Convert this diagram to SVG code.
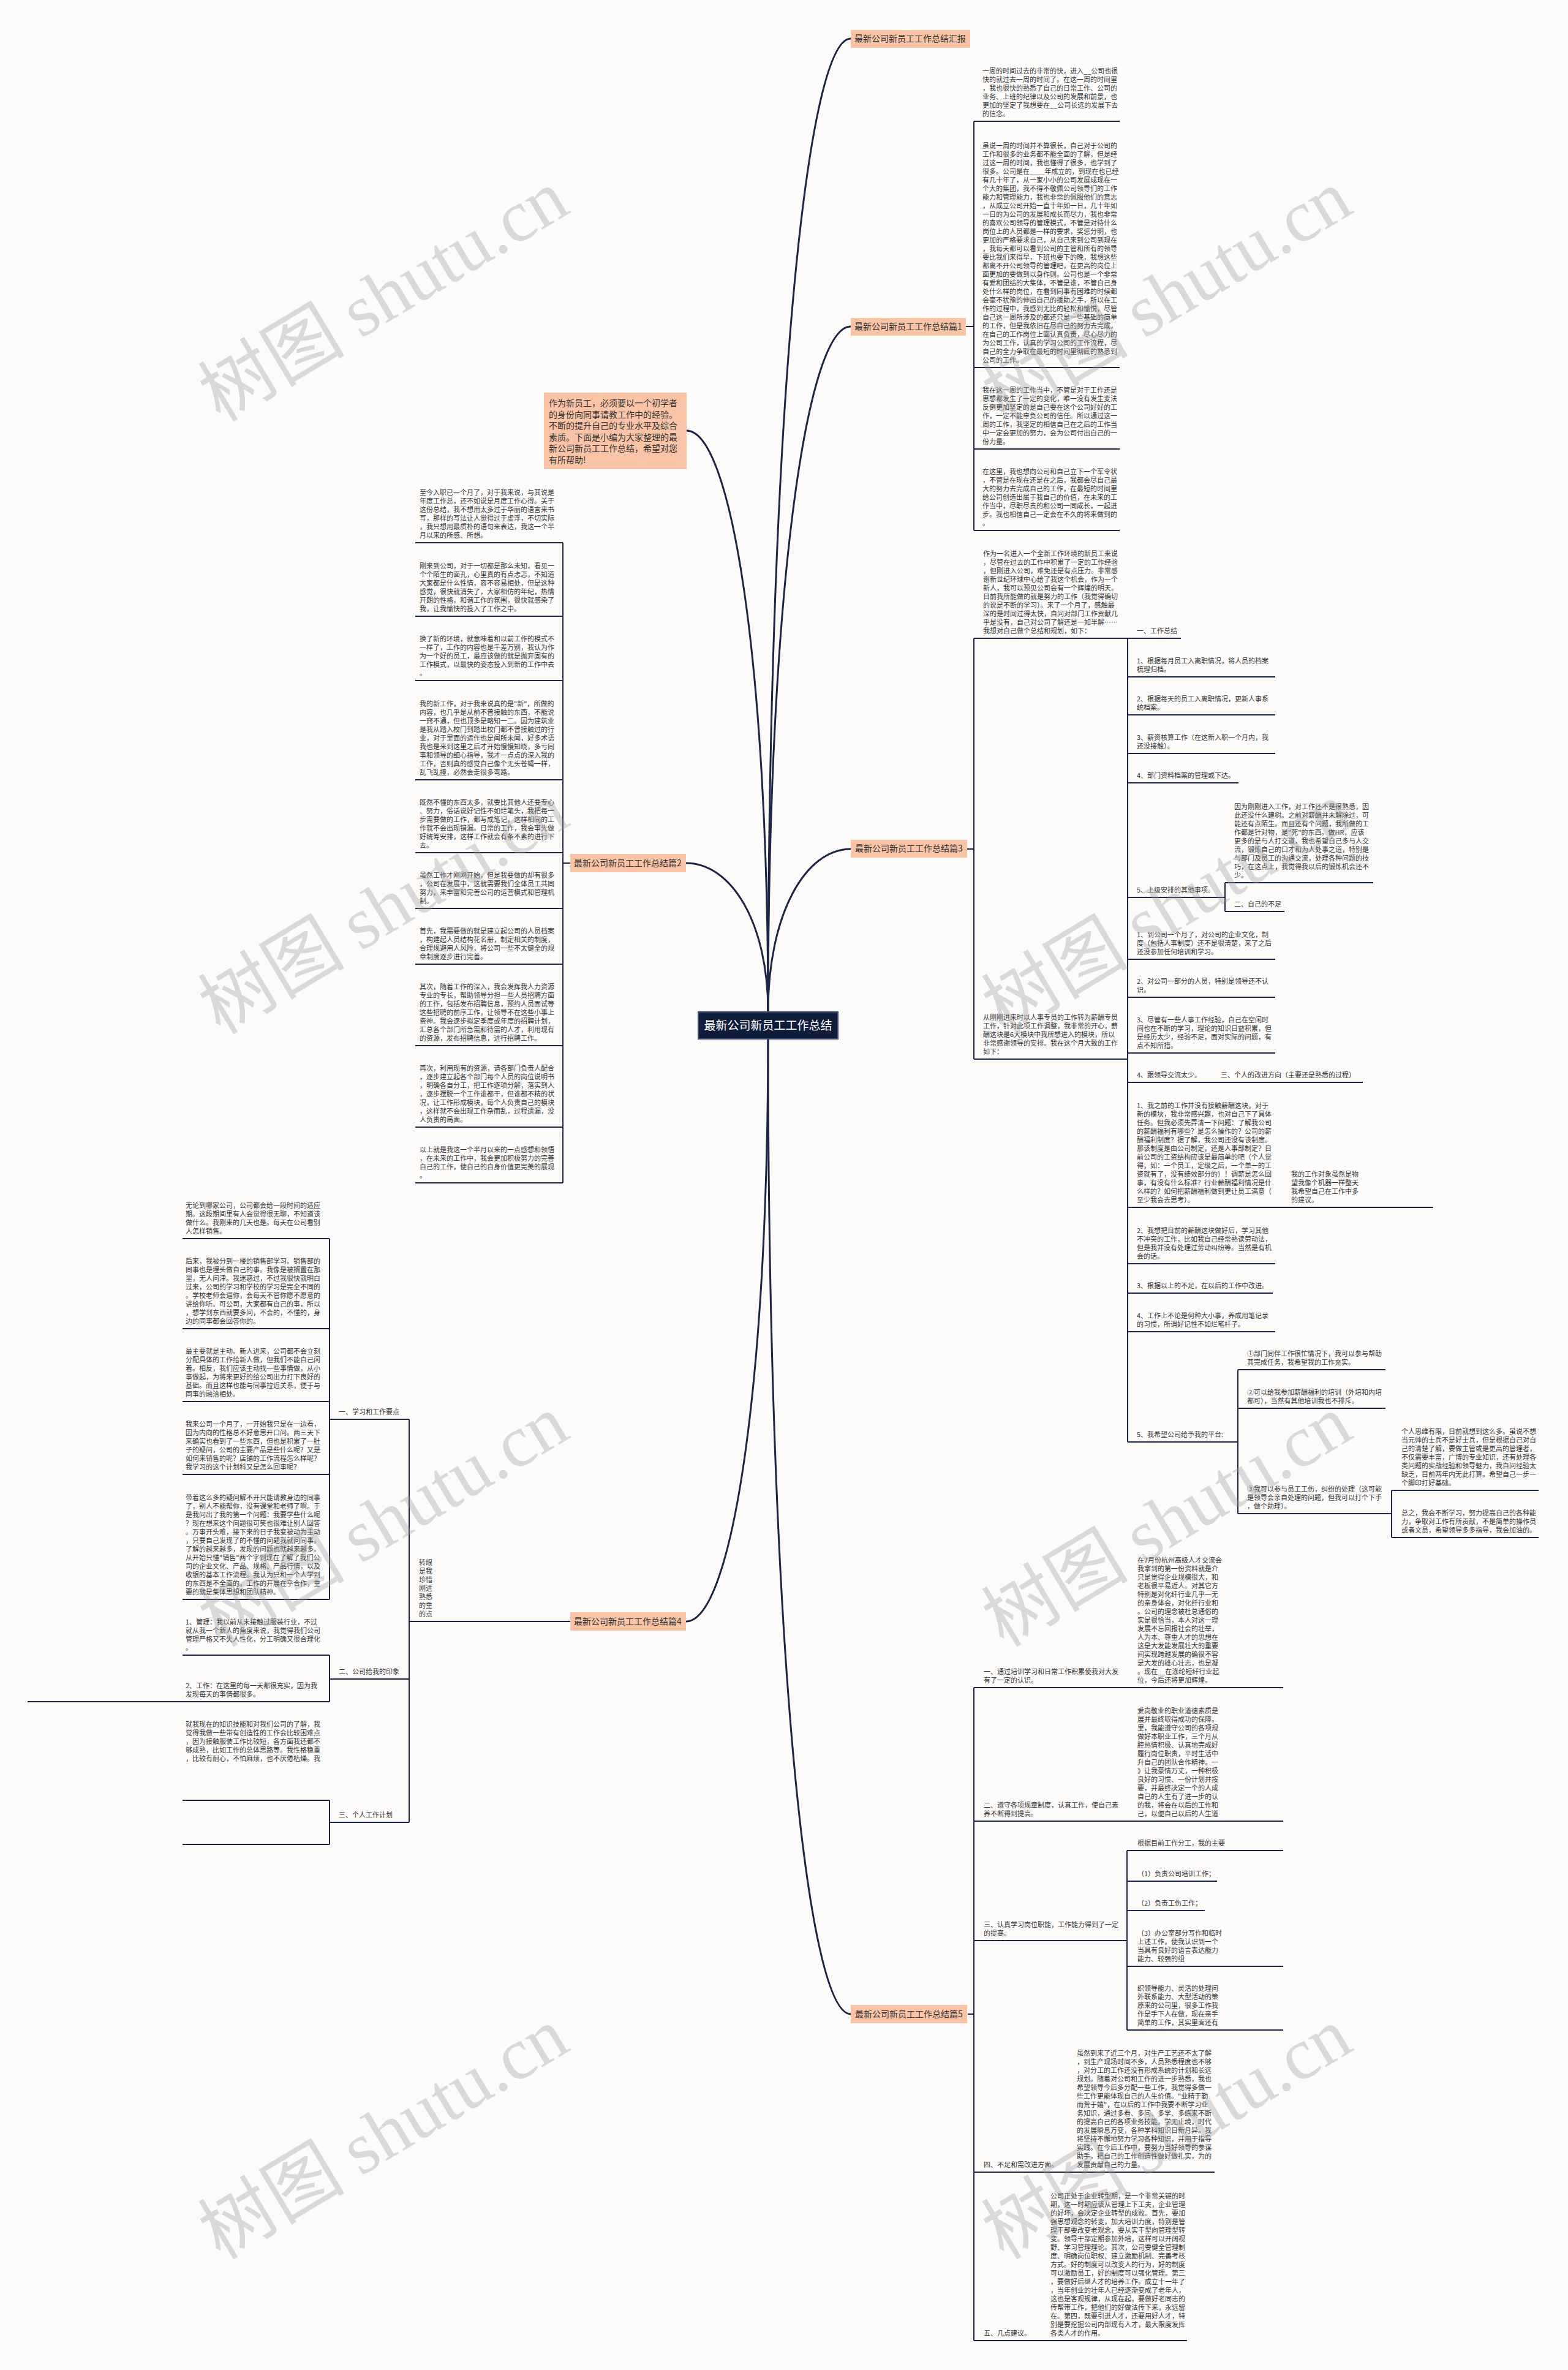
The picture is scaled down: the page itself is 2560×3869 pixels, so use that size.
<svg xmlns="http://www.w3.org/2000/svg" width="2560" height="3869" viewBox="0 0 2560 3869">
<style>
.t{font-family:"Noto Sans CJK SC","Noto Sans",sans-serif;font-size:11px;fill:#333}
.lb{font-family:"Noto Sans CJK SC","Noto Sans",sans-serif;font-size:14px;fill:#333;text-anchor:middle}
.ln{stroke:#1c2541;stroke-width:2;fill:none}
.cv{stroke:#1c2541;stroke-width:3;fill:none}
.lab{fill:#f9c4a5}
.wm{font-family:"Noto Sans CJK SC",sans-serif;font-size:120px;fill:#9a9a9a;opacity:.35}
.wl{font-family:"Liberation Serif",serif}
</style>
<rect width="2560" height="3869" fill="#fdfbfa"/>
<g id="connectors">
<path class="cv" d="M1254,1652 C1254,699 1315,63 1389,63"/>
<path class="cv" d="M1254,1652 C1254,981 1315,533 1389,533"/>
<path class="cv" d="M1254,1652 C1254,1492 1315,1386 1389,1386"/>
<path class="cv" d="M1254,1652 C1254,1083 1194,703 1121,703"/>
<path class="cv" d="M1254,1652 C1254,1506 1194,1409 1120,1409"/>
<path class="cv" d="M1254,1696 C1254,2267 1194,2647 1120,2647"/>
<path class="cv" d="M1254,1696 C1254,2651 1315,3288 1389,3288"/>
<path class="ln" d="M1577,533H1590M1590,198V866M1579,1386H1590M1590,1042V1729M931,1409H919M919,886V1931M931,2647H918M668,2317V2975M1580,3288H1590M1590,2755V3821M1841,1042V2354M2000,1441V1488M2021,2236V2471M2272,2433V2510M538,2022V2611M538,2702V2778M538,2939V3011M1840,3021V3314"/>
</g>
<g id="root"><rect x="1140" y="1652" width="228" height="44" fill="#0f1d3a" stroke="#3b4e74" stroke-width="2"/><text x="1254" y="1681" style="font-family:'Noto Sans CJK SC',sans-serif;font-size:19px;fill:#fff;text-anchor:middle">最新公司新员工工作总结</text></g>
<g id="n-note"><rect class="lab" x="888" y="641" width="233" height="125"/><text class="lb" style="text-anchor:start" x="896" y="663"><tspan x="896" y="663">作为新员工，必须要以一个初学者</tspan><tspan x="896" dy="18.6">的身份向同事请教工作中的经验。</tspan><tspan x="896" dy="18.6">不断的提升自己的专业水平及综合</tspan><tspan x="896" dy="18.6">素质。下面是小编为大家整理的最</tspan><tspan x="896" dy="18.6">新公司新员工工作总结，希望对您</tspan><tspan x="896" dy="18.6">有所帮助!</tspan></text></g>
<g id="l0"><rect class="lab" x="1389" y="49" width="195" height="29"/><text class="lb" x="1486" y="68">最新公司新员工工作总结汇报</text></g>
<g id="l1"><rect class="lab" x="1389" y="519" width="188" height="29"/><text class="lb" x="1483" y="538">最新公司新员工工作总结篇1</text></g>
<g id="l3"><rect class="lab" x="1389" y="1371" width="190" height="29"/><text class="lb" x="1484" y="1390">最新公司新员工工作总结篇3</text></g>
<g id="l2"><rect class="lab" x="931" y="1394" width="189" height="30"/><text class="lb" x="1025" y="1414">最新公司新员工工作总结篇2</text></g>
<g id="l4"><rect class="lab" x="931" y="2632" width="189" height="30"/><text class="lb" x="1025" y="2652">最新公司新员工工作总结篇4</text></g>
<g id="l5"><rect class="lab" x="1389" y="3273" width="190" height="30"/><text class="lb" x="1484" y="3293">最新公司新员工工作总结篇5</text></g>

<g id="b1a"><path class="ln" d="M1590,198H1828"/><text class="t"><tspan x="1604" y="120">一周的时间过去的非常的快，进入__公司也很</tspan><tspan x="1604" dy="14">快的就过去一周的时间了。在这一周的时间里</tspan><tspan x="1604" dy="14">，我也很快的熟悉了自己的日常工作、公司的</tspan><tspan x="1604" dy="14">业务、上班的纪律以及公司的发展和前景，也</tspan><tspan x="1604" dy="14">更加的坚定了我想要在__公司长远的发展下去</tspan><tspan x="1604" dy="14">的信念。</tspan></text></g>
<g id="b1b"><path class="ln" d="M1590,600H1828"/><text class="t"><tspan x="1604" y="242">虽说一周的时间并不算很长，自己对于公司的</tspan><tspan x="1604" dy="14">工作和很多的业务都不能全面的了解，但是经</tspan><tspan x="1604" dy="14">过这一周的时间，我也懂得了很多，也学到了</tspan><tspan x="1604" dy="14">很多。公司是在____年成立的，到现在也已经</tspan><tspan x="1604" dy="14">有几十年了，从一家小小的公司发展成现在一</tspan><tspan x="1604" dy="14">个大的集团，我不得不敬佩公司领导们的工作</tspan><tspan x="1604" dy="14">能力和管理能力，我也非常的佩服他们的意志</tspan><tspan x="1604" dy="14">，从成立公司开始一直十年如一日，几十年如</tspan><tspan x="1604" dy="14">一日的为公司的发展和成长而尽力，我也非常</tspan><tspan x="1604" dy="14">的喜欢公司领导的管理模式，不管是对待什么</tspan><tspan x="1604" dy="14">岗位上的人员都是一样的要求，奖惩分明，也</tspan><tspan x="1604" dy="14">更加的严格要求自己，从自己来到公司到现在</tspan><tspan x="1604" dy="14">，我每天都可以看到公司的主管和所有的领导</tspan><tspan x="1604" dy="14">要比我们来得早，下班也要下的晚，我想这些</tspan><tspan x="1604" dy="14">都离不开公司领导的管理吧，在更高的岗位上</tspan><tspan x="1604" dy="14">面更加的要做到以身作则。公司也是一个非常</tspan><tspan x="1604" dy="14">有爱和团结的大集体，不管是谁，不管自己身</tspan><tspan x="1604" dy="14">处什么样的岗位，在看到同事有困难的时候都</tspan><tspan x="1604" dy="14">会毫不犹豫的伸出自己的援助之手，所以在工</tspan><tspan x="1604" dy="14">作的过程中，我感到无比的轻松和愉悦，尽管</tspan><tspan x="1604" dy="14">自己这一周所涉及的都还只是一些基础的简单</tspan><tspan x="1604" dy="14">的工作，但是我依旧在尽自己的努力去完成，</tspan><tspan x="1604" dy="14">在自己的工作岗位上面认真负责，尽心尽力的</tspan><tspan x="1604" dy="14">为公司工作，认真的学习公司的工作流程，尽</tspan><tspan x="1604" dy="14">自己的全力争取在最短的时间里彻底的熟悉到</tspan><tspan x="1604" dy="14">公司的工作。</tspan></text></g>
<g id="b1c"><path class="ln" d="M1590,733H1828"/><text class="t"><tspan x="1604" y="641">我在这一周的工作当中，不管是对于工作还是</tspan><tspan x="1604" dy="14">思想都发生了一定的变化，唯一没有发生变法</tspan><tspan x="1604" dy="14">反倒更加坚定的是自己要在这个公司好好的工</tspan><tspan x="1604" dy="14">作，一定不能辜负公司的信任。所以通过这一</tspan><tspan x="1604" dy="14">周的工作，我坚定的相信自己在之后的工作当</tspan><tspan x="1604" dy="14">中一定会更加的努力，会为公司付出自己的一</tspan><tspan x="1604" dy="14">份力量。</tspan></text></g>
<g id="b1d"><path class="ln" d="M1590,866H1828"/><text class="t"><tspan x="1604" y="774">在这里，我也想向公司和自己立下一个军令状</tspan><tspan x="1604" dy="14">，不管是在现在还是在之后，我都会尽自己最</tspan><tspan x="1604" dy="14">大的努力去完成自己的工作，在最短的时间里</tspan><tspan x="1604" dy="14">给公司创造出属于我自己的价值，在未来的工</tspan><tspan x="1604" dy="14">作当中，尽职尽责的和公司一同成长，一起进</tspan><tspan x="1604" dy="14">步。我也相信自己一定会在不久的将来做到的</tspan><tspan x="1604" dy="14">。</tspan></text></g>

<g id="b3-intro"><path class="ln" d="M1590,1042H1841"/><text class="t"><tspan x="1605" y="908">作为一名进入一个全新工作环境的新员工来说</tspan><tspan x="1605" dy="14">，尽管在过去的工作中积累了一定的工作经验</tspan><tspan x="1605" dy="14">，但刚进入公司，难免还是有点压力。非常感</tspan><tspan x="1605" dy="14">谢新世纪环球中心给了我这个机会，作为一个</tspan><tspan x="1605" dy="14">新人，我可以预见公司会有一个辉煌的明天。</tspan><tspan x="1605" dy="14">目前我所能做的就是努力的工作（我觉得确切</tspan><tspan x="1605" dy="14">的说是不断的学习）。来了一个月了，感触最</tspan><tspan x="1605" dy="14">深的是时间过得太快，自问对部门工作贡献几</tspan><tspan x="1605" dy="14">乎是没有，自己对公司了解还是一知半解……</tspan><tspan x="1605" dy="14">我想对自己做个总结和规划，如下：</tspan></text></g>
<g id="b3-from"><path class="ln" d="M1590,1729H1841"/><text class="t"><tspan x="1605" y="1665">从刚刚进来时以人事专员的工作转为薪酬专员</tspan><tspan x="1605" dy="14">工作，针对此项工作调整，我非常的开心，薪</tspan><tspan x="1605" dy="14">酬这块是6大模块中我所想进入的模块，所以</tspan><tspan x="1605" dy="14">非常感谢领导的安排。我在这个月大致的工作</tspan><tspan x="1605" dy="14">如下：</tspan></text></g>
<g id="b3-s1"><path class="ln" d="M1841,1042H1928"/><text class="t" x="1856" y="1034">一、工作总结</text></g>
<g id="b3-s1-1"><path class="ln" d="M1841,1105H2082"/><text class="t"><tspan x="1856" y="1083">1、根据每月员工入离职情况，将人员的档案</tspan><tspan x="1856" dy="14">梳理归档。</tspan></text></g>
<g id="b3-s1-2"><path class="ln" d="M1841,1167H2082"/><text class="t"><tspan x="1856" y="1145">2、根据每天的员工入离职情况，更新人事系</tspan><tspan x="1856" dy="14">统档案。</tspan></text></g>
<g id="b3-s1-3"><path class="ln" d="M1841,1230H2082"/><text class="t"><tspan x="1856" y="1208">3、薪资核算工作（在这新入职一个月内，我</tspan><tspan x="1856" dy="14">还没接触）。</tspan></text></g>
<g id="b3-s1-4"><path class="ln" d="M1841,1278H2022"/><text class="t" x="1856" y="1270">4、部门资料档案的管理或下达。</text></g>
<g id="b3-s1-5"><path class="ln" d="M1841,1465H2000"/><text class="t" x="1856" y="1457">5、上级安排的其他事项。</text></g>
<g id="b3-because"><path class="ln" d="M2000,1441H2242"/><text class="t"><tspan x="2015" y="1321">因为刚刚进入工作，对工作还不是很熟悉，因</tspan><tspan x="2015" dy="14">此还没什么建树。之前对薪酬并未解除过，可</tspan><tspan x="2015" dy="14">能还有点陌生。而且还有个问题，我所做的工</tspan><tspan x="2015" dy="14">作都是针对物，是"死"的东西。做HR，应该</tspan><tspan x="2015" dy="14">更多的是与人打交道，我也希望自己多与人交</tspan><tspan x="2015" dy="14">流，锻炼自己的口才和为人处事之道，特别是</tspan><tspan x="2015" dy="14">与部门及员工的沟通交流，处理各种问题的技</tspan><tspan x="2015" dy="14">巧，在这点上，我觉得我以后的锻炼机会还不</tspan><tspan x="2015" dy="14">少。</tspan></text></g>
<g id="b3-s2"><path class="ln" d="M2000,1488H2097"/><text class="t" x="2015" y="1480">二、自己的不足</text></g>
<g id="b3-s2-1"><path class="ln" d="M1841,1566H2082"/><text class="t"><tspan x="1856" y="1530">1、到公司一个月了，对公司的企业文化，制</tspan><tspan x="1856" dy="14">度（包括人事制度）还不是很清楚，来了之后</tspan><tspan x="1856" dy="14">还没参加任何培训和学习。</tspan></text></g>
<g id="b3-s2-2"><path class="ln" d="M1841,1628H2082"/><text class="t"><tspan x="1856" y="1606">2、对公司一部分的人员，特别是领导还不认</tspan><tspan x="1856" dy="14">识。</tspan></text></g>
<g id="b3-s2-3"><path class="ln" d="M1841,1719H2082"/><text class="t"><tspan x="1856" y="1669">3、尽管有一些人事工作经验，自己在空闲时</tspan><tspan x="1856" dy="14">间也在不断的学习，理论的知识日益积累，但</tspan><tspan x="1856" dy="14">是经历太少，经验不足，面对实际的问题，有</tspan><tspan x="1856" dy="14">点不知所措。</tspan></text></g>
<g id="b3-s2-4"><path class="ln" d="M1841,1767H1978"/><text class="t" x="1856" y="1759">4、跟领导交流太少。</text></g>
<g id="b3-s3"><path class="ln" d="M1978,1767H2225"/><text class="t" x="1993" y="1759">三、个人的改进方向（主要还是熟悉的过程）</text></g>
<g id="b3-s3-1"><path class="ln" d="M1841,1971H2093"/><text class="t"><tspan x="1856" y="1809">1、我之前的工作并没有接触薪酬这块，对于</tspan><tspan x="1856" dy="14">新的模块，我非常感兴趣，也对自己下了具体</tspan><tspan x="1856" dy="14">任务。但我必须先弄清一下问题：了解我公司</tspan><tspan x="1856" dy="14">的薪酬福利有哪些？是怎么操作的？公司的薪</tspan><tspan x="1856" dy="14">酬福利制度？据了解，我公司还没有该制度。</tspan><tspan x="1856" dy="14">那该制度是由公司制定，还是人事部制定？目</tspan><tspan x="1856" dy="14">前公司的工资结构应该是最简单的吧（个人觉</tspan><tspan x="1856" dy="14">得，如：一个员工，定级之后，一个单一的工</tspan><tspan x="1856" dy="14">资就有了，没有绩效部分的）！调薪是怎么回</tspan><tspan x="1856" dy="14">事，有没有什么标准？行业薪酬福利情况是什</tspan><tspan x="1856" dy="14">么样的？如何把薪酬福利做到更让员工满意（</tspan><tspan x="1856" dy="14">至少我会去思考）。</tspan></text></g>
<g id="b3-obj"><path class="ln" d="M2093,1971H2340"/><text class="t"><tspan x="2108" y="1921">我的工作对象虽然是物</tspan><tspan x="2108" dy="14">望我像个机器一样整天</tspan><tspan x="2108" dy="14">我希望自己在工作中多</tspan><tspan x="2108" dy="14">的建议。</tspan></text></g>
<g id="b3-s3-2"><path class="ln" d="M1841,2063H2082"/><text class="t"><tspan x="1856" y="2013">2、我想把目前的薪酬这块做好后，学习其他</tspan><tspan x="1856" dy="14">不冲突的工作，比如我自己经常熟读劳动法，</tspan><tspan x="1856" dy="14">但是我并没有处理过劳动纠纷等。当然是有机</tspan><tspan x="1856" dy="14">会的话。</tspan></text></g>
<g id="b3-s3-3"><path class="ln" d="M1841,2111H2078"/><text class="t" x="1856" y="2103">3、根据以上的不足，在以后的工作中改进。</text></g>
<g id="b3-s3-4"><path class="ln" d="M1841,2174H2082"/><text class="t"><tspan x="1856" y="2152">4、工作上不论是何种大小事，养成用笔记录</tspan><tspan x="1856" dy="14">的习惯，所谓好记性不如烂笔杆子。</tspan></text></g>
<g id="b3-s3-5"><path class="ln" d="M1841,2354H2021"/><text class="t" x="1856" y="2346">5、我希望公司给予我的平台:</text></g>
<g id="b3-p1"><path class="ln" d="M2021,2236H2262"/><text class="t"><tspan x="2036" y="2214">①部门同伴工作很忙情况下，我可以参与帮助</tspan><tspan x="2036" dy="14">其完成任务，我希望我的工作充实。</tspan></text></g>
<g id="b3-p2"><path class="ln" d="M2021,2299H2262"/><text class="t"><tspan x="2036" y="2277">②可以给我参加薪酬福利的培训（外培和内培</tspan><tspan x="2036" dy="14">都可），当然有其他培训我也不排斥。</tspan></text></g>
<g id="b3-p3"><path class="ln" d="M2021,2471H2272"/><text class="t"><tspan x="2036" y="2435">③我可以参与员工工伤，纠纷的处理（这可能</tspan><tspan x="2036" dy="14">是领导会亲自处理的问题，但我可以打个下手</tspan><tspan x="2036" dy="14">，做个助理）。</tspan></text></g>
<g id="b3-think"><path class="ln" d="M2272,2433H2512"/><text class="t"><tspan x="2288" y="2341">个人思维有限，目前就想到这么多。虽说不想</tspan><tspan x="2288" dy="14">当元帅的士兵不是好士兵，但是根据自己对自</tspan><tspan x="2288" dy="14">己的清楚了解，要做主管或是更高的管理者，</tspan><tspan x="2288" dy="14">不仅需要丰富，广博的专业知识，还有处理各</tspan><tspan x="2288" dy="14">类问题的实战经验和领导魅力，我自问经验太</tspan><tspan x="2288" dy="14">缺乏，目前两年内无此打算。希望自己一步一</tspan><tspan x="2288" dy="14">个脚印打好基础。</tspan></text></g>
<g id="b3-end"><path class="ln" d="M2272,2510H2512"/><text class="t"><tspan x="2288" y="2474">总之，我会不断学习，努力提高自己的各种能</tspan><tspan x="2288" dy="14">力，争取对工作有所贡献，不是简单的操作员</tspan><tspan x="2288" dy="14">或者文员，希望领导多多指导，我会加油的。</tspan></text></g>

<g id="b2a"><path class="ln" d="M678,886H919"/><text class="t"><tspan x="685" y="808">至今入职已一个月了，对于我来说，与其说是</tspan><tspan x="685" dy="14">年度工作总，还不如说是月度工作心得。关于</tspan><tspan x="685" dy="14">这份总结，我不想用太多过于华丽的语言来书</tspan><tspan x="685" dy="14">写，那样的写法让人觉得过于虚浮，不切实际</tspan><tspan x="685" dy="14">，我只想用最质朴的语句来表达，我这一个半</tspan><tspan x="685" dy="14">月以来的所感、所想。</tspan></text></g>
<g id="b2b"><path class="ln" d="M678,1006H919"/><text class="t"><tspan x="685" y="928">刚来到公司，对于一切都是那么未知，看见一</tspan><tspan x="685" dy="14">个个陌生的面孔，心里真的有点忐忑，不知道</tspan><tspan x="685" dy="14">大家都是什么性情，容不容易相处，但是这种</tspan><tspan x="685" dy="14">感觉，很快就消失了，大家相仿的年纪，热情</tspan><tspan x="685" dy="14">开朗的性格，和谐工作的氛围，很快就感染了</tspan><tspan x="685" dy="14">我，让我愉快的投入了工作之中。</tspan></text></g>
<g id="b2c"><path class="ln" d="M678,1111H919"/><text class="t"><tspan x="685" y="1047">换了新的环境，就意味着和以前工作的模式不</tspan><tspan x="685" dy="14">一样了，工作的内容也是千差万别，我认为作</tspan><tspan x="685" dy="14">为一个好的员工，最应该做的就是抛弃固有的</tspan><tspan x="685" dy="14">工作模式，以最快的姿态投入到新的工作中去</tspan><tspan x="685" dy="14">。</tspan></text></g>
<g id="b2d"><path class="ln" d="M678,1273H919"/><text class="t"><tspan x="685" y="1153">我的新工作，对于我来说真的是"新"，所做的</tspan><tspan x="685" dy="14">内容，也几乎是从前不曾接触的东西，不能说</tspan><tspan x="685" dy="14">一窍不通，但也顶多是略知一二。因为建筑业</tspan><tspan x="685" dy="14">是我从踏入校门到踏出校门都不曾接触过的行</tspan><tspan x="685" dy="14">业，对于里面的运作也是闻所未闻，好多术语</tspan><tspan x="685" dy="14">我也是来到这里之后才开始慢慢知晓，多亏同</tspan><tspan x="685" dy="14">事和领导的细心指导，我才一点点的深入我的</tspan><tspan x="685" dy="14">工作，否则真的感觉自己像个无头苍蝇一样，</tspan><tspan x="685" dy="14">乱飞乱撞，必然会走很多弯路。</tspan></text></g>
<g id="b2e"><path class="ln" d="M678,1392H919"/><text class="t"><tspan x="685" y="1314">既然不懂的东西太多，就要比其他人还要专心</tspan><tspan x="685" dy="14">、努力，俗话说好记性不如烂笔头，我把每一</tspan><tspan x="685" dy="14">步需要做的工作，都写成笔记，这样相同的工</tspan><tspan x="685" dy="14">作就不会出现错漏。日常的工作，我会事先做</tspan><tspan x="685" dy="14">好统筹安排，这样工作就会有条不紊的进行下</tspan><tspan x="685" dy="14">去。</tspan></text></g>
<g id="b2f"><path class="ln" d="M678,1483H919"/><text class="t"><tspan x="685" y="1433">虽然工作才刚刚开始，但是我要做的却有很多</tspan><tspan x="685" dy="14">，公司在发展中，这就需要我们全体员工共同</tspan><tspan x="685" dy="14">努力，来丰富和完善公司的运营模式和管理机</tspan><tspan x="685" dy="14">制。</tspan></text></g>
<g id="b2g"><path class="ln" d="M678,1574H919"/><text class="t"><tspan x="685" y="1524">首先，我需要做的就是建立起公司的人员档案</tspan><tspan x="685" dy="14">，构建起人员结构花名册，制定相关的制度，</tspan><tspan x="685" dy="14">合理规避用人风险，将公司一些不太健全的规</tspan><tspan x="685" dy="14">章制度逐步进行完善。</tspan></text></g>
<g id="b2h"><path class="ln" d="M678,1707H919"/><text class="t"><tspan x="685" y="1615">其次，随着工作的深入，我会发挥我人力资源</tspan><tspan x="685" dy="14">专业的专长，帮助领导分担一些人员招聘方面</tspan><tspan x="685" dy="14">的工作，包括发布招聘信息，预约人员面试等</tspan><tspan x="685" dy="14">这些招聘的前序工作，让领导不在这些小事上</tspan><tspan x="685" dy="14">费神。我会逐步拟定季度或年度的招聘计划，</tspan><tspan x="685" dy="14">汇总各个部门所急需和待需的人才，利用现有</tspan><tspan x="685" dy="14">的资源，发布招聘信息，进行招聘工作。</tspan></text></g>
<g id="b2i"><path class="ln" d="M678,1840H919"/><text class="t"><tspan x="685" y="1748">再次，利用现有的资源，请各部门负责人配合</tspan><tspan x="685" dy="14">，逐步建立起各个部门每个人员的岗位说明书</tspan><tspan x="685" dy="14">，明确各自分工，把工作逐项分解，落实到人</tspan><tspan x="685" dy="14">，逐步摆脱一个工作谁都干，但谁都不精的状</tspan><tspan x="685" dy="14">况，让工作形成模块，每个人负责自己的模块</tspan><tspan x="685" dy="14">，这样就不会出现工作杂而乱，过程遗漏，没</tspan><tspan x="685" dy="14">人负责的局面。</tspan></text></g>
<g id="b2j"><path class="ln" d="M678,1931H919"/><text class="t"><tspan x="685" y="1881">以上就是我这一个半月以来的一点感想和领悟</tspan><tspan x="685" dy="14">，在未来的工作中，我会更加积极努力的完善</tspan><tspan x="685" dy="14">自己的工作，使自己的自身价值更完美的展现</tspan><tspan x="685" dy="14">。</tspan></text></g>

<g id="b4-main"><path class="ln" d="M668,2647H918"/><text class="t"><tspan x="684" y="2555">转眼</tspan><tspan x="684" dy="14">是我</tspan><tspan x="684" dy="14">珍惜</tspan><tspan x="684" dy="14">刚进</tspan><tspan x="684" dy="14">熟悉</tspan><tspan x="684" dy="14">的重</tspan><tspan x="684" dy="14">的点</tspan></text></g>
<g id="b4-s1"><path class="ln" d="M538,2317H668"/><text class="t" x="553" y="2309">一、学习和工作要点</text></g>
<g id="b4-s2"><path class="ln" d="M538,2741H668"/><text class="t" x="553" y="2733">二、公司给我的印象</text></g>
<g id="b4-s3"><path class="ln" d="M538,2975H668"/><text class="t" x="553" y="2967">三、个人工作计划</text></g>
<g id="b4-a"><path class="ln" d="M298,2022H538"/><text class="t"><tspan x="303" y="1972">无论到哪家公司，公司都会给一段时间的适应</tspan><tspan x="303" dy="14">期。这段期间里有人会觉得很无聊，不知道该</tspan><tspan x="303" dy="14">做什么。我刚来的几天也是。每天在公司看别</tspan><tspan x="303" dy="14">人怎样销售。</tspan></text></g>
<g id="b4-b"><path class="ln" d="M298,2169H538"/><text class="t"><tspan x="303" y="2063">后来，我被分到一楼的销售部学习。销售部的</tspan><tspan x="303" dy="14">同事也是埋头做自己的事。我像是被搁置在那</tspan><tspan x="303" dy="14">里，无人问津。我迷惑过，不过我很快就明白</tspan><tspan x="303" dy="14">过来，公司的学习和学校的学习是完全不同的</tspan><tspan x="303" dy="14">。学校老师会逼你，会每天不管你愿不愿意的</tspan><tspan x="303" dy="14">讲给你听。可公司，大家都有自己的事，所以</tspan><tspan x="303" dy="14">，想学到东西就要多问，不会的，不懂的，身</tspan><tspan x="303" dy="14">边的同事都会回答你的。</tspan></text></g>
<g id="b4-c"><path class="ln" d="M298,2288H538"/><text class="t"><tspan x="303" y="2210">最主要就是主动。新人进来，公司都不会立刻</tspan><tspan x="303" dy="14">分配具体的工作给新人做，但我们不能自己闲</tspan><tspan x="303" dy="14">着。相反，我们应该主动找一些事情做，从小</tspan><tspan x="303" dy="14">事做起，为将来更好的给公司出力打下良好的</tspan><tspan x="303" dy="14">基础。而且这样也能与同事拉近关系，便于与</tspan><tspan x="303" dy="14">同事的融洽相处。</tspan></text></g>
<g id="b4-d"><path class="ln" d="M298,2407H538"/><text class="t"><tspan x="303" y="2329">我来公司一个月了，一开始我只是在一边看，</tspan><tspan x="303" dy="14">因为内向的性格总不好意思开口问。两三天下</tspan><tspan x="303" dy="14">来确实也看到了一些东西，但也是积累了一肚</tspan><tspan x="303" dy="14">子的疑问，公司的主要产品是些什么呢？又是</tspan><tspan x="303" dy="14">如何来销售的呢？店铺的工作流程怎么样呢？</tspan><tspan x="303" dy="14">我学习的这个计划科又是怎么回事呢？</tspan></text></g>
<g id="b4-e"><path class="ln" d="M298,2611H538"/><text class="t"><tspan x="303" y="2449">带着这么多的疑问解不开只能请教身边的同事</tspan><tspan x="303" dy="14">了，别人不能帮你，没有课堂和老师了啊。于</tspan><tspan x="303" dy="14">是我问出了我的第一个问题：我要学些什么呢</tspan><tspan x="303" dy="14">？现在想来这个问题很可笑也很难让别人回答</tspan><tspan x="303" dy="14">。万事开头难，接下来的日子我变被动为主动</tspan><tspan x="303" dy="14">，只要自己发现了的不懂的问题我就问同事。</tspan><tspan x="303" dy="14">了解的越来越多，发现的问题也就越来越多。</tspan><tspan x="303" dy="14">从开始只懂"销售"两个字到现在了解了我们公</tspan><tspan x="303" dy="14">司的企业文化、产品、规格、产品行情，以及</tspan><tspan x="303" dy="14">收银的基本工作流程。我认为只和一个人学到</tspan><tspan x="303" dy="14">的东西是不全面的，工作的开展在乎合作，重</tspan><tspan x="303" dy="14">要的就是集体思想和团队精神。</tspan></text></g>
<g id="b4-f"><path class="ln" d="M298,2702H538"/><text class="t"><tspan x="303" y="2652">1、管理：我以前从未接触过服装行业，不过</tspan><tspan x="303" dy="14">就从我一个新人的角度来说，我觉得我们公司</tspan><tspan x="303" dy="14">管理严格又不失人性化，分工明确又很合理化</tspan><tspan x="303" dy="14">。</tspan></text></g>
<g id="b4-g"><path class="ln" d="M45,2778H538"/><text class="t"><tspan x="303" y="2756">2、工作：在这里的每一天都很充实，因为我</tspan><tspan x="303" dy="14">发现每天的事情都很多。</tspan></text></g>
<g id="b4-h"><path class="ln" d="M298,2939H538"/><text class="t"><tspan x="303" y="2819">就我现在的知识技能和对我们公司的了解，我</tspan><tspan x="303" dy="14">觉得我做一些带有创造性的工作会比较困难点</tspan><tspan x="303" dy="14">，因为接触服装工作比较短，各方面我还都不</tspan><tspan x="303" dy="14">够成熟，比如工作的总体思路等。我性格稳重</tspan><tspan x="303" dy="14">，比较有耐心，不怕麻烦，也不厌倦枯燥。我</tspan></text></g>
<g id="b4-i"><path class="ln" d="M298,3011H538"/></g>

<g id="b5-s1"><path class="ln" d="M1590,2755H1842"/><text class="t"><tspan x="1606" y="2733">一、通过培训学习和日常工作积累使我对大发</tspan><tspan x="1606" dy="14">有了一定的认识。</tspan></text></g>
<g id="b5-s1a"><path class="ln" d="M1842,2755H2095"/><text class="t"><tspan x="1857" y="2551">在7月份杭州高级人才交流会</tspan><tspan x="1857" dy="14">我拿到的第一份资料就是介</tspan><tspan x="1857" dy="14">只是觉得企业规模很大，和</tspan><tspan x="1857" dy="14">老板很平易近人。对其它方</tspan><tspan x="1857" dy="14">特别是对化纤行业几乎一无</tspan><tspan x="1857" dy="14">的亲身体会，对化纤行业和</tspan><tspan x="1857" dy="14">。公司的理念被杜总通俗的</tspan><tspan x="1857" dy="14">实是很恰当，本人对这一理</tspan><tspan x="1857" dy="14">发展不忘回报社会的壮举，</tspan><tspan x="1857" dy="14">人为本、尊重人才的思想在</tspan><tspan x="1857" dy="14">这是大发能发展壮大的重要</tspan><tspan x="1857" dy="14">间实现跨越发展的确很不容</tspan><tspan x="1857" dy="14">是大发的雄心壮志，也是凝</tspan><tspan x="1857" dy="14">。现在__在涤纶短纤行业起</tspan><tspan x="1857" dy="14">位，今后还将更加辉煌。</tspan></text></g>
<g id="b5-s2"><path class="ln" d="M1590,2973H1842"/><text class="t"><tspan x="1606" y="2951">二、遵守各项规章制度，认真工作，使自己素</tspan><tspan x="1606" dy="14">养不断得到提高。</tspan></text></g>
<g id="b5-s2a"><path class="ln" d="M1842,2973H2095"/><text class="t"><tspan x="1857" y="2797">爱岗敬业的职业道德素质是</tspan><tspan x="1857" dy="14">展并最终取得成功的保障。</tspan><tspan x="1857" dy="14">里，我能遵守公司的各项规</tspan><tspan x="1857" dy="14">做好本职业工作，三个月从</tspan><tspan x="1857" dy="14">腔热情积极、认真地完成好</tspan><tspan x="1857" dy="14">履行岗位职责，平时生活中</tspan><tspan x="1857" dy="14">升自己的团队合作精神。一</tspan><tspan x="1857" dy="14">》让我豪情万丈，一种积极</tspan><tspan x="1857" dy="14">良好的习惯、一份计划并按</tspan><tspan x="1857" dy="14">要，并最终决定一个的人成</tspan><tspan x="1857" dy="14">自己的人生有了进一步的认</tspan><tspan x="1857" dy="14">的我，将会在以后的工作和</tspan><tspan x="1857" dy="14">己，以便自己以后的人生道</tspan></text></g>
<g id="b5-s3"><path class="ln" d="M1590,3168H1840"/><text class="t"><tspan x="1606" y="3146">三、认真学习岗位职能，工作能力得到了一定</tspan><tspan x="1606" dy="14">的提高。</tspan></text></g>
<g id="b5-s3a"><path class="ln" d="M1840,3021H2095"/><text class="t" x="1857" y="3013">根据目前工作分工，我的主要</text></g>
<g id="b5-s3b"><path class="ln" d="M1840,3071H1987"/><text class="t" x="1857" y="3063">（1）负责公司培训工作；</text></g>
<g id="b5-s3c"><path class="ln" d="M1840,3119H1967"/><text class="t" x="1857" y="3111">（2）负责工伤工作；</text></g>
<g id="b5-s3d"><path class="ln" d="M1840,3210H2095"/><text class="t"><tspan x="1857" y="3160">（3）办公室部分写作和临时</tspan><tspan x="1857" dy="14">上述工作，使我认识到一个</tspan><tspan x="1857" dy="14">当具有良好的语言表达能力</tspan><tspan x="1857" dy="14">能力、较强的组</tspan></text></g>
<g id="b5-s3e"><path class="ln" d="M1840,3314H2095"/><text class="t"><tspan x="1857" y="3250">织领导能力、灵活的处理问</tspan><tspan x="1857" dy="14">外联系能力、大型活动的策</tspan><tspan x="1857" dy="14">原来的公司里，很多工作我</tspan><tspan x="1857" dy="14">作是手下人在做，现在亲手</tspan><tspan x="1857" dy="14">简单的工作，其实里面还有</tspan></text></g>
<g id="b5-s4"><path class="ln" d="M1590,3546H1743"/><text class="t" x="1606" y="3538">四、不足和需改进方面。</text></g>
<g id="b5-s4a"><path class="ln" d="M1743,3546H1983"/><text class="t"><tspan x="1758" y="3356">虽然到来了近三个月，对生产工艺还不太了解</tspan><tspan x="1758" dy="14">，到生产现场时间不多，人员熟悉程度也不够</tspan><tspan x="1758" dy="14">，对分工的工作还没有形成系统的计划和长远</tspan><tspan x="1758" dy="14">规划。随着对公司和工作的进一步熟悉，我也</tspan><tspan x="1758" dy="14">希望领导今后多分配一些工作，我觉得多做一</tspan><tspan x="1758" dy="14">些工作更能体现自己的人生价值。"业精于勤</tspan><tspan x="1758" dy="14">而荒于嬉"，在以后的工作中我要不断学习业</tspan><tspan x="1758" dy="14">务知识，通过多看、多问、多学、多练来不断</tspan><tspan x="1758" dy="14">的提高自己的各项业务技能。学无止境，时代</tspan><tspan x="1758" dy="14">的发展瞬息万变，各种学科知识日新月异。我</tspan><tspan x="1758" dy="14">将坚持不懈地努力学习各种知识，并用于指导</tspan><tspan x="1758" dy="14">实践。在今后工作中，要努力当好领导的参谋</tspan><tspan x="1758" dy="14">助手，把自己的工作创造性做好做扎实，为的</tspan><tspan x="1758" dy="14">发展贡献自己的力量。</tspan></text></g>
<g id="b5-s5"><path class="ln" d="M1590,3821H1700"/><text class="t" x="1606" y="3813">五、几点建议。</text></g>
<g id="b5-s5a"><path class="ln" d="M1700,3821H1938"/><text class="t"><tspan x="1715" y="3589">公司正处于企业转型期，是一个非常关键的时</tspan><tspan x="1715" dy="14">期，这一时期应该从管理上下工夫，企业管理</tspan><tspan x="1715" dy="14">的好坏，会决定企业转型的成败。首先，要加</tspan><tspan x="1715" dy="14">强思想观念的转变，加大培训力度，特别是管</tspan><tspan x="1715" dy="14">理干部要改变老观念，要从实干型向管理型转</tspan><tspan x="1715" dy="14">变。领导干部定期参加外培，这样可以开阔视</tspan><tspan x="1715" dy="14">野、学习管理理论。其次，公司要健全管理制</tspan><tspan x="1715" dy="14">度、明确岗位职权、建立激励机制、完善考核</tspan><tspan x="1715" dy="14">方式。好的制度可以改变人的行为，好的制度</tspan><tspan x="1715" dy="14">可以激励员工，好的制度可以强化管理。第三</tspan><tspan x="1715" dy="14">，要做好后继人才的培养工作。成立十一年了</tspan><tspan x="1715" dy="14">，当年创业的壮年人已经逐渐变成了老年人，</tspan><tspan x="1715" dy="14">这也是客观规律，从现在起，要做好老同志的</tspan><tspan x="1715" dy="14">传帮带工作，把他们的好做法传下来，永远留</tspan><tspan x="1715" dy="14">在。第四，既要引进人才，还要用好人才，特</tspan><tspan x="1715" dy="14">别是要挖掘公司内部现有人才，最大限度发挥</tspan><tspan x="1715" dy="14">各类人才的作用。</tspan></text></g>

<g id="watermarks">
<text class="wm" transform="translate(647,518) rotate(-31)" text-anchor="middle">树图 <tspan class="wl">shutu.cn</tspan></text>
<text class="wm" transform="translate(1926,518) rotate(-31)" text-anchor="middle">树图 <tspan class="wl">shutu.cn</tspan></text>
<text class="wm" transform="translate(647,1518) rotate(-31)" text-anchor="middle">树图 <tspan class="wl">shutu.cn</tspan></text>
<text class="wm" transform="translate(1926,1518) rotate(-31)" text-anchor="middle">树图 <tspan class="wl">shutu.cn</tspan></text>
<text class="wm" transform="translate(647,2518) rotate(-31)" text-anchor="middle">树图 <tspan class="wl">shutu.cn</tspan></text>
<text class="wm" transform="translate(1926,2518) rotate(-31)" text-anchor="middle">树图 <tspan class="wl">shutu.cn</tspan></text>
<text class="wm" transform="translate(647,3518) rotate(-31)" text-anchor="middle">树图 <tspan class="wl">shutu.cn</tspan></text>
<text class="wm" transform="translate(1926,3518) rotate(-31)" text-anchor="middle">树图 <tspan class="wl">shutu.cn</tspan></text>
</g>
</svg>
